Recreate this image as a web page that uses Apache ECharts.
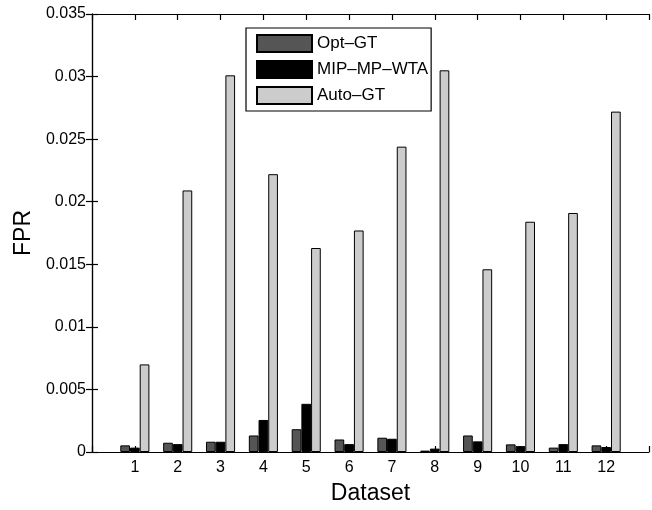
<!DOCTYPE html>
<html>
<head>
<meta charset="utf-8">
<script src="https://cdn.jsdelivr.net/npm/echarts@6/dist/echarts.min.js"></script>
<style>
  html, body { margin: 0; padding: 0; background: #fff; }
  #chart { width: 652px; height: 510px; }
</style>
</head>
<body>
<div id="chart"></div>
<script>
// datasets 1..12
const datasets = ['1', '2', '3', '4', '5', '6', '7', '8', '9', '10', '11', '12'];
const seriesNames = ['Opt–GT', 'MIP–MP–WTA', 'Auto–GT'];

// FPR values
const optGT = [0.00053, 0.00074, 0.00082, 0.00132, 0.00182, 0.00100, 0.00114, 0.00011, 0.00132, 0.00061, 0.00035, 0.00053];
const mipWTA = [0.00035, 0.00063, 0.00082, 0.00256, 0.00385, 0.00063, 0.00106, 0.00027, 0.00085, 0.00047, 0.00063, 0.00040];
const autoGT = [0.0070, 0.0209, 0.0301, 0.0222, 0.0163, 0.0177, 0.0244, 0.0305, 0.0146, 0.0184, 0.0191, 0.0272];

const yTicks = [0, 0.005, 0.01, 0.015, 0.02, 0.025, 0.03, 0.035];

const colors = ['#555555', '#000000', '#cccccc'];
const allValues = [optGT, mipWTA, autoGT];

const chart = echarts.init(document.getElementById('chart'));

const font = '"Liberation Sans", Arial, Helvetica, sans-serif';

const xCommon = {
  type: 'value',
  min: 0,
  max: datasets.length + 1,
  interval: 1,
  splitLine: { show: false },
  axisLine: { show: true, onZero: false, lineStyle: { color: '#000', width: 1.2 } },
  axisTick: {
    show: true,
    inside: true,
    length: 6,
    lineStyle: { color: '#000', width: 1.2 }
  }
};

const option = {
  animation: false,
  backgroundColor: '#fff',
  textStyle: { fontFamily: font },
  grid: { left: 92, top: 14, width: 562, height: 443, containLabel: false },
  legend: {
    orient: 'vertical',
    left: 246,
    top: 28,
    padding: [6, 3, 6, 10],
    itemWidth: 55,
    itemHeight: 17,
    itemGap: 7,
    backgroundColor: '#fff',
    borderColor: '#000',
    borderWidth: 1.2,
    borderRadius: 0,
    icon: 'rect',
    textStyle: { color: '#000', fontSize: 17, fontFamily: font, padding: [0, 0, 0, 0] },
    data: seriesNames
  },
  xAxis: [
    Object.assign({}, xCommon, {
      position: 'bottom',
      name: 'Dataset',
      nameLocation: 'middle',
      nameGap: 30,
      nameTextStyle: { color: '#000', fontSize: 23, fontFamily: font },
      axisLabel: {
        color: '#000',
        fontSize: 16,
        margin: 8,
        fontFamily: font,
        formatter: v => (v >= 1 && v <= datasets.length ? datasets[v - 1] : '')
      }
    }),
    Object.assign({}, xCommon, {
      position: 'top',
      axisLabel: { show: false }
    })
  ],
  yAxis: [
    {
      type: 'value',
      min: yTicks[0],
      max: yTicks[yTicks.length - 1],
      interval: 0.005,
      position: 'left',
      name: 'FPR',
      nameLocation: 'middle',
      nameGap: 57,
      nameRotate: 90,
      nameTextStyle: { color: '#000', fontSize: 23, fontFamily: font },
      splitLine: { show: false },
      axisLine: { show: true, lineStyle: { color: '#000', width: 1.2 } },
      axisTick: { show: true, inside: true, length: 6, lineStyle: { color: '#000', width: 1.2 } },
      axisLabel: { color: '#000', fontSize: 16, margin: 6, fontFamily: font }
    },
    {
      type: 'value',
      min: yTicks[0],
      max: yTicks[yTicks.length - 1],
      interval: 0.005,
      position: 'right',
      splitLine: { show: false },
      axisLine: { show: true, lineStyle: { color: '#000', width: 1.2 } },
      axisTick: { show: true, inside: true, length: 6, lineStyle: { color: '#000', width: 1.2 } },
      axisLabel: { show: false }
    }
  ],
  series: seriesNames.map((name, i) => ({
    name: name,
    type: 'bar',
    xAxisIndex: 0,
    yAxisIndex: 0,
    barWidth: 9.7,
    barGap: '0%',
    itemStyle: { color: colors[i], borderColor: '#000', borderWidth: 1 },
    emphasis: { disabled: true },
    data: allValues[i].map((v, j) => [j + 1, v])
  }))
};

chart.setOption(option);
</script>
</body>
</html>
